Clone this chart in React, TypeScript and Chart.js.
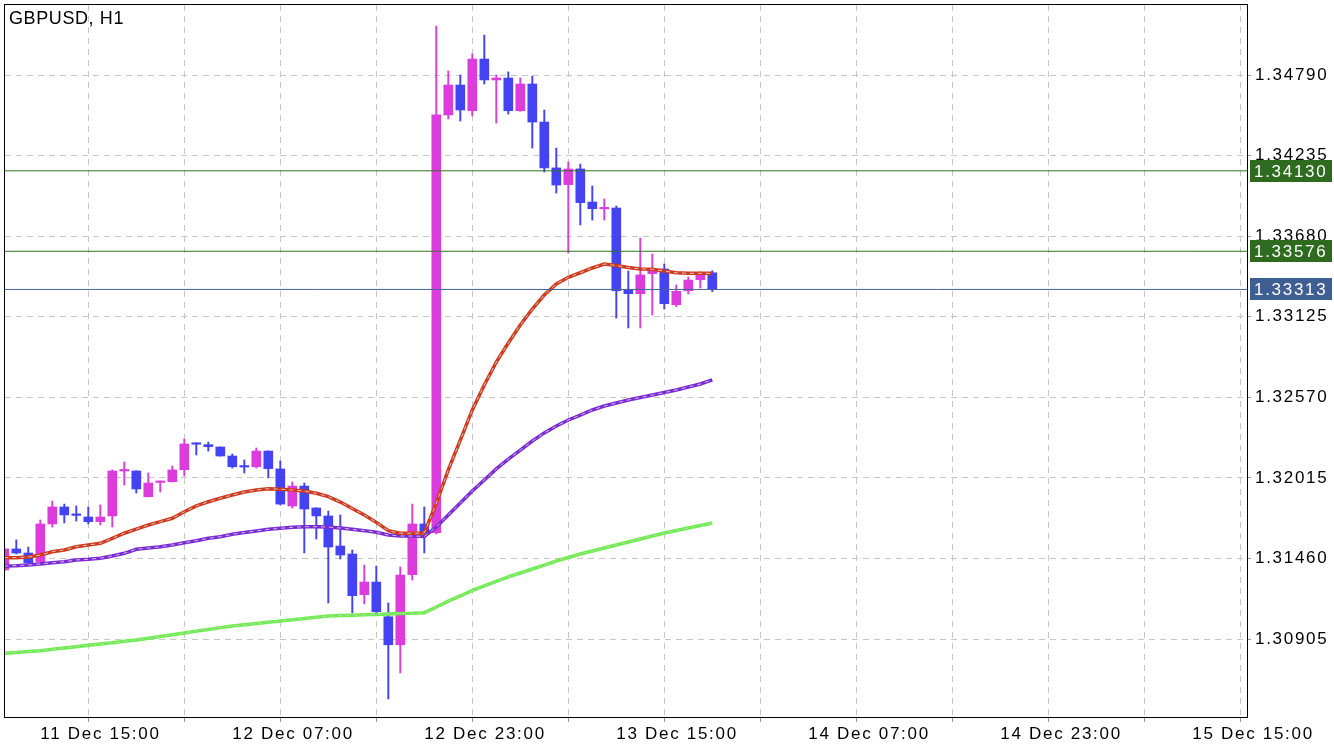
import React, { useEffect, useRef } from 'react';
import { Chart, registerables } from 'chart.js';

Chart.register(...registerables);

const symbolTitle = 'GBPUSD, H1';

const opens = [1.31381, 1.31526, 1.31498, 1.31436, 1.31698, 1.31815, 1.31760, 1.31746, 1.31714, 1.31753,
  1.32063, 1.32063, 1.31886, 1.31984, 1.31989, 1.32072, 1.32249, 1.32244, 1.32228, 1.32166,
  1.32094, 1.32092, 1.32200, 1.32077, 1.31822, 1.31959, 1.31808, 1.31753, 1.31546, 1.31491,
  1.31211, 1.31298, 1.31059, 1.30866, 1.31349, 1.31698, 1.31638, 1.34515, 1.34721, 1.34544,
  1.34900, 1.34756, 1.34769, 1.34544, 1.34728, 1.34466, 1.34150, 1.34035, 1.34143, 1.33915,
  1.33868, 1.33874, 1.33314, 1.33284, 1.33422, 1.33454, 1.33208, 1.33304, 1.33380, 1.33428];
const highs = [1.31532, 1.31588, 1.31539, 1.31725, 1.31856, 1.31835, 1.31822, 1.31815, 1.31829, 1.32070,
  1.32125, 1.32065, 1.32049, 1.31994, 1.32097, 1.32283, 1.32256, 1.32262, 1.32229, 1.32180,
  1.32139, 1.32221, 1.32202, 1.32132, 1.31987, 1.31980, 1.31810, 1.31787, 1.31760, 1.31519,
  1.31415, 1.31408, 1.31154, 1.31402, 1.31835, 1.31815, 1.35127, 1.34818, 1.34790, 1.34935,
  1.35065, 1.34790, 1.34811, 1.34769, 1.34783, 1.34549, 1.34287, 1.34191, 1.34177, 1.34026,
  1.33936, 1.33888, 1.33440, 1.33667, 1.33557, 1.33488, 1.33344, 1.33399, 1.33435, 1.33442];
const lows = [1.31374, 1.31491, 1.31415, 1.31429, 1.31677, 1.31705, 1.31718, 1.31698, 1.31691, 1.31677,
  1.31966, 1.31911, 1.31884, 1.31918, 1.31987, 1.32028, 1.32173, 1.32200, 1.32165, 1.32083,
  1.32049, 1.32083, 1.32015, 1.31829, 1.31808, 1.31498, 1.31594, 1.31154, 1.31457, 1.31085,
  1.31147, 1.31085, 1.30493, 1.30672, 1.31312, 1.31498, 1.31630, 1.34487, 1.34473, 1.34508,
  1.34728, 1.34459, 1.34521, 1.34540, 1.34287, 1.34122, 1.33977, 1.33564, 1.33757, 1.33791,
  1.33791, 1.33116, 1.33048, 1.33048, 1.33137, 1.33178, 1.33194, 1.33282, 1.33323, 1.33298];
const closes = [1.31526, 1.31498, 1.31429, 1.31698, 1.31815, 1.31760, 1.31757, 1.31714, 1.31746, 1.32063,
  1.32070, 1.31939, 1.31980, 1.31988, 1.32070, 1.32249, 1.32247, 1.32230, 1.32166, 1.32092,
  1.32090, 1.32200, 1.32079, 1.31835, 1.31959, 1.31801, 1.31753, 1.31539, 1.31484, 1.31204,
  1.31298, 1.31094, 1.30866, 1.31346, 1.31698, 1.31636, 1.34515, 1.34721, 1.34549, 1.34900,
  1.34756, 1.34769, 1.34544, 1.34728, 1.34466, 1.34150, 1.34032, 1.34143, 1.33911, 1.33869,
  1.33872, 1.33304, 1.33284, 1.33413, 1.33454, 1.33215, 1.33300, 1.33378, 1.33424, 1.33313];

const maFast = [1.31466, 1.31466, 1.31470, 1.31484, 1.31507, 1.31519, 1.31541, 1.31553, 1.31565, 1.31599,
  1.31634, 1.31663, 1.31691, 1.31714, 1.31737, 1.31782, 1.31822, 1.31851, 1.31875, 1.31897,
  1.31918, 1.31932, 1.31941, 1.31937, 1.31932, 1.31925, 1.31909, 1.31886, 1.31849, 1.31805,
  1.31760, 1.31709, 1.31652, 1.31634, 1.31634, 1.31636, 1.31842, 1.32070, 1.32276, 1.32483,
  1.32655, 1.32813, 1.32944, 1.33068, 1.33178, 1.33275, 1.33351, 1.33397, 1.33428, 1.33461,
  1.33488, 1.33478, 1.33464, 1.33454, 1.33452, 1.33440, 1.33428, 1.33424, 1.33424, 1.33424];
const maMid = [1.31409, 1.31411, 1.31415, 1.31422, 1.31431, 1.31438, 1.31450, 1.31455, 1.31462, 1.31477,
  1.31496, 1.31524, 1.31532, 1.31541, 1.31553, 1.31569, 1.31583, 1.31599, 1.31610, 1.31627,
  1.31639, 1.31650, 1.31661, 1.31668, 1.31675, 1.31679, 1.31679, 1.31677, 1.31670, 1.31661,
  1.31652, 1.31641, 1.31622, 1.31615, 1.31615, 1.31612, 1.31677, 1.31760, 1.31842, 1.31925,
  1.32001, 1.32077, 1.32145, 1.32207, 1.32269, 1.32325, 1.32373, 1.32414, 1.32448, 1.32483,
  1.32510, 1.32531, 1.32552, 1.32569, 1.32586, 1.32603, 1.32621, 1.32641, 1.32662, 1.32690];
const maSlow = [1.30807, 1.30813, 1.30819, 1.30825, 1.30835, 1.30844, 1.30853, 1.30862, 1.30871, 1.30880,
  1.30890, 1.30899, 1.30911, 1.30923, 1.30935, 1.30947, 1.30960, 1.30971, 1.30984, 1.30995,
  1.31004, 1.31013, 1.31021, 1.31030, 1.31039, 1.31047, 1.31056, 1.31064, 1.31067, 1.31070,
  1.31072, 1.31075, 1.31078, 1.31081, 1.31083, 1.31087, 1.31126, 1.31167, 1.31202, 1.31240,
  1.31271, 1.31302, 1.31333, 1.31360, 1.31388, 1.31415, 1.31443, 1.31467, 1.31491, 1.31512,
  1.31532, 1.31553, 1.31574, 1.31594, 1.31615, 1.31636, 1.31653, 1.31670, 1.31687, 1.31705];

const yTicks = [1.30905, 1.31460, 1.32015, 1.32570, 1.33125, 1.33680, 1.34235, 1.34790];
const gridIndexes = [3, 11, 19, 27, 35, 43, 51, 59, 67, 75, 83, 91, 99];
const labelIndexes = [3, 19, 35, 51, 67, 83, 99];
const xTickLabels = ['11 Dec 15:00', '12 Dec 07:00', '12 Dec 23:00', '13 Dec 15:00', '14 Dec 07:00', '14 Dec 23:00', '15 Dec 15:00'];
const levelPrices = [1.34130, 1.33576];
const bidPrice = 1.33313;

const X_MIN = 0.058;
const X_MAX = 103.558;
const Y_MIN = 1.303685;
const Y_MAX = 1.352721;

const BULL = '#dd3cdd';
const BEAR = '#4343f3';
const LEVEL_COLOR = '#2f7420';
const LEVEL_BOX = '#2e6b1e';
const BID_COLOR = '#46639a';
const BID_BOX = '#3f5f92';
const GRID = '#c6c6c6';
const FONT = '"Liberation Sans", Arial, sans-serif';

const decorPlugin = {
  id: 'decor',
  beforeDraw(chart: any) {
    chart.ctx.letterSpacing = '1.7px';
  },
  afterDraw(chart: any) {
    const { ctx, chartArea: a, scales } = chart;
    const y = scales.y;
    ctx.save();
    ctx.strokeStyle = '#000';
    ctx.lineWidth = 1;
    ctx.setLineDash([]);
    ctx.strokeRect(a.left - 0.5, a.top - 0.5, a.right - a.left + 1, a.bottom - a.top + 1);
    const boxes = [
      ...levelPrices.map((p) => ({ p, c: LEVEL_BOX })),
      { p: bidPrice, c: BID_BOX },
    ];
    ctx.font = `17px ${FONT}`;
    ctx.textBaseline = 'middle';
    ctx.textAlign = 'left';
    boxes.forEach(({ p, c }) => {
      const py = y.getPixelForValue(p);
      ctx.fillStyle = c;
      ctx.fillRect(a.right + 3, Math.round(py) - 11, 82, 22);
      ctx.fillStyle = '#fff';
      ctx.fillText(p.toFixed(5), a.right + 7, Math.round(py) + 1);
    });
    ctx.restore();
  },
};

export default function App() {
  const canvasRef = useRef<HTMLCanvasElement | null>(null);

  useEffect(() => {
    const canvas = canvasRef.current;
    if (!canvas) return;
    const idx = opens.map((_, i) => i);
    const bodyColors = idx.map((i) => (closes[i] >= opens[i] ? BULL : BEAR));

    const maLine = (values: number[], color: string) => ({
      type: 'line' as const,
      data: values.map((v, i) => ({ x: i, y: v })),
      borderColor: color,
      borderWidth: 3.5,
      pointRadius: 0,
      tension: 0,
      fill: false,
    });
    const maDash = (values: number[]) => ({
      type: 'line' as const,
      data: values.map((v, i) => ({ x: i, y: v })),
      borderColor: '#c8c8c8',
      borderWidth: 1,
      borderDash: [4, 4],
      pointRadius: 0,
      tension: 0,
      fill: false,
    });
    const hLine = (p: number, color: string) => ({
      type: 'line' as const,
      data: [{ x: X_MIN, y: p }, { x: X_MAX, y: p }],
      borderColor: color,
      borderWidth: 1,
      pointRadius: 0,
      fill: false,
    });

    const chart = new Chart(canvas, {
      type: 'bar',
      data: {
        datasets: [
          ...levelPrices.map((p) => hLine(p, LEVEL_COLOR)),
          hLine(bidPrice, BID_COLOR),
          maDash(maFast),
          maLine(maFast, '#d23a1e'),
          maDash(maMid),
          maLine(maMid, '#7c2ad8'),
          maDash(maSlow),
          maLine(maSlow, '#6cf04c'),
          {
            type: 'bar' as const,
            data: idx.map((i) => ({ x: i, y: [Math.min(opens[i], closes[i]), Math.max(opens[i], closes[i])] })),
            backgroundColor: bodyColors,
            borderWidth: 0,
            barThickness: 9,
            minBarLength: 1.5,
            grouped: false,
          },
          {
            type: 'bar' as const,
            data: idx.map((i) => ({ x: i, y: [lows[i], highs[i]] })),
            backgroundColor: bodyColors,
            borderWidth: 0,
            barThickness: 1.3,
            minBarLength: 1,
            grouped: false,
          },
        ] as any,
      },
      options: {
        animation: false,
        responsive: true,
        maintainAspectRatio: false,
        layout: { padding: { left: 5, top: 5, right: 0, bottom: 0 } },
        plugins: { legend: { display: false }, tooltip: { enabled: false } },
        scales: {
          x: {
            type: 'linear',
            min: X_MIN,
            max: X_MAX,
            offset: false,
            afterBuildTicks: (s: any) => {
              s.ticks = gridIndexes.map((v) => ({ value: v }));
            },
            afterFit: (s: any) => {
              s.height = 33;
              s.paddingLeft = 0;
              s.paddingRight = 0;
              s.paddingTop = 0;
              s.paddingBottom = 0;
            },
            grid: { color: GRID, tickLength: 5, tickColor: '#999', lineWidth: 1 },
            border: { display: true, color: '#000', width: 1, dash: [6, 5] },
            ticks: {
              autoSkip: false,
              maxRotation: 0,
              minRotation: 0,
              align: 'start',
              color: '#000',
              padding: 2,
              font: { size: 17, family: FONT },
              callback: (v: any) => {
                const k = labelIndexes.indexOf(Number(v));
                return k >= 0 ? xTickLabels[k] : '';
              },
            },
          },
          y: {
            type: 'linear',
            position: 'right',
            min: Y_MIN,
            max: Y_MAX,
            afterBuildTicks: (s: any) => {
              s.ticks = yTicks.map((v) => ({ value: v }));
            },
            afterFit: (s: any) => {
              s.width = 87;
              s.paddingLeft = 0;
              s.paddingRight = 0;
              s.paddingTop = 0;
              s.paddingBottom = 0;
            },
            grid: { color: GRID, tickLength: 4, tickColor: '#999', lineWidth: 1 },
            border: { display: true, color: '#000', width: 1, dash: [6, 5] },
            ticks: {
              color: '#000',
              padding: 4,
              font: { size: 17, family: FONT },
              callback: (v: any) => Number(v).toFixed(5),
            },
          },
        },
      } as any,
      plugins: [decorPlugin],
    });
    return () => chart.destroy();
  }, []);

  return (
    <div style={{ position: 'fixed', left: 0, top: 0, width: 1334, height: 750, background: '#fff' }}>
      <canvas ref={canvasRef} />
      <div
        style={{
          position: 'absolute',
          left: 9,
          top: 8,
          font: `18px ${FONT}`,
          letterSpacing: '0.6px',
          color: '#000',
          pointerEvents: 'none',
        }}
      >
        {symbolTitle}
      </div>
    </div>
  );
}
